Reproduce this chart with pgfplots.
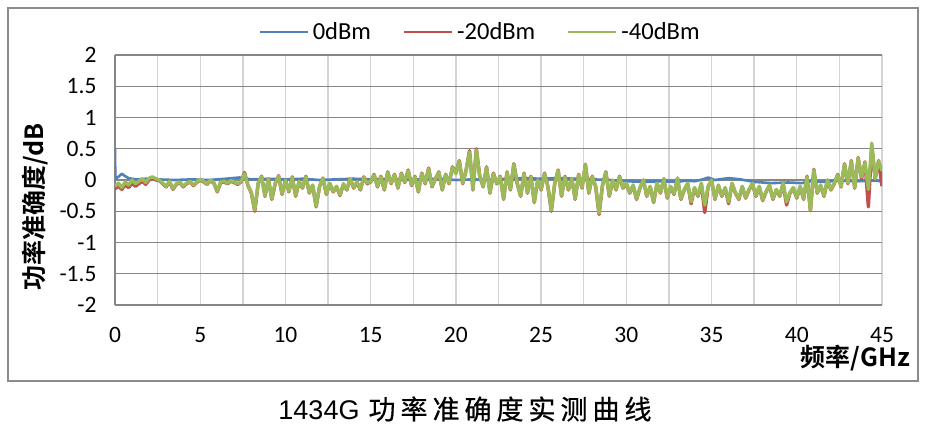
\documentclass[border=0pt]{standalone}
\usepackage{fontspec}
\setmainfont{Carlito}
\newfontfamily\cjk[FakeBold=0.6]{Noto Sans CJK SC}
\newfontfamily\cjkb{Noto Sans CJK SC Bold}
\newfontfamily\arial{Liberation Sans}
\usepackage{pgfplots}
\usepackage{pgfplotstable}
\pgfplotsset{compat=1.18}

\definecolor{xlblue}{HTML}{4F81BD}
\definecolor{xlred}{HTML}{C0504D}
\definecolor{xlgreen}{HTML}{9BBB59}
\definecolor{hgrid}{HTML}{868686}
\definecolor{vgrid}{HTML}{D4D4D4}
\definecolor{frame}{HTML}{8C8C8C}

% f = frequency (GHz), g = -40dBm, r = -20dBm
\pgfplotstableread{
f g r
0.0 -0.10 -0.14
0.2 -0.05 -0.10
0.4 -0.12 -0.15
0.6 -0.03 -0.08
0.8 -0.08 -0.12
1.0 0.00 -0.05
1.2 -0.06 -0.10
1.4 -0.02 -0.06
1.6 0.02 -0.02
1.8 -0.04 -0.07
2.0 0.03 0.00
2.2 0.05 0.03
2.4 0.02 0.00
2.6 0.00 -0.01
2.8 -0.05 -0.06
3.0 -0.10 -0.11
3.2 -0.02 -0.03
3.4 -0.14 -0.15
3.6 -0.06 -0.07
3.8 -0.03 -0.04
4.0 -0.10 -0.11
4.2 -0.05 -0.06
4.4 -0.02 -0.03
4.6 -0.08 -0.09
4.8 -0.03 -0.04
5.0 0.01 0.00
5.2 -0.02 -0.03
5.4 -0.06 -0.07
5.6 0.00 -0.01
5.8 -0.04 -0.05
6.0 -0.18 -0.19
6.2 -0.03 -0.04
6.4 -0.02 -0.03
6.6 -0.05 -0.06
6.8 -0.01 -0.02
7.0 -0.03 -0.04
7.2 -0.06 -0.07
7.4 -0.02 -0.03
7.6 0.10 0.12
7.8 -0.08 -0.09
8.0 -0.20 -0.21
8.2 -0.48 -0.50
8.4 -0.05 -0.06
8.6 0.05 0.06
8.8 -0.25 -0.26
9.0 0.02 0.02
9.2 -0.30 -0.31
9.4 -0.05 -0.06
9.6 0.06 0.07
9.8 -0.22 -0.23
10.0 0.00 0.00
10.2 -0.18 -0.19
10.4 0.04 0.05
10.6 -0.25 -0.26
10.8 -0.02 -0.03
11.0 -0.12 -0.13
11.2 0.05 0.06
11.4 -0.20 -0.21
11.6 -0.08 -0.09
11.8 -0.42 -0.43
12.0 -0.10 -0.11
12.2 0.03 0.03
12.4 -0.22 -0.23
12.6 -0.05 -0.06
12.8 -0.18 -0.19
13.0 -0.10 -0.11
13.2 -0.24 -0.25
13.4 -0.06 -0.07
13.6 -0.15 -0.16
13.8 0.02 0.02
14.0 -0.12 -0.13
14.2 -0.03 -0.04
14.4 -0.15 -0.16
14.6 0.04 0.05
14.8 -0.05 -0.06
15.0 -0.02 -0.03
15.2 0.08 0.09
15.4 -0.10 -0.11
15.6 0.05 0.06
15.8 -0.15 -0.16
16.0 0.12 0.13
16.2 -0.05 -0.06
16.4 0.08 0.09
16.6 -0.12 -0.13
16.8 0.10 0.11
17.0 -0.03 -0.04
17.2 0.15 0.16
17.4 -0.08 -0.09
17.6 0.05 0.06
17.8 -0.18 -0.19
18.0 0.10 0.11
18.2 -0.05 -0.06
18.4 0.18 0.19
18.6 -0.10 -0.11
18.8 0.02 0.02
19.0 0.12 0.13
19.2 -0.15 -0.16
19.4 0.08 0.09
19.6 -0.05 -0.06
19.8 0.20 0.21
20.0 0.10 0.11
20.2 0.30 0.31
20.4 -0.05 -0.06
20.6 0.15 0.16
20.8 0.45 0.47
21.0 -0.15 -0.16
21.2 0.48 0.50
21.4 0.05 0.06
21.6 -0.10 -0.11
21.8 0.20 0.21
22.0 -0.20 -0.21
22.2 0.10 0.11
22.4 -0.05 -0.06
22.6 0.05 0.06
22.8 -0.30 -0.31
23.0 0.12 0.13
23.2 -0.15 -0.16
23.4 0.25 0.26
23.6 -0.05 -0.06
23.8 -0.25 -0.26
24.0 0.10 0.11
24.2 -0.20 -0.21
24.4 0.05 0.06
24.6 -0.35 -0.36
24.8 0.00 0.00
25.0 -0.15 -0.16
25.2 0.10 0.11
25.4 -0.10 -0.11
25.6 -0.48 -0.50
25.8 -0.05 -0.06
26.0 0.15 0.16
26.2 -0.25 -0.26
26.4 0.05 0.06
26.6 -0.15 -0.16
26.8 0.02 0.02
27.0 -0.30 -0.31
27.2 0.08 0.09
27.4 -0.12 -0.13
27.6 0.24 0.25
27.8 -0.20 -0.21
28.0 0.05 0.06
28.2 -0.10 -0.11
28.4 -0.53 -0.55
28.6 -0.08 -0.09
28.8 0.12 0.13
29.0 -0.25 -0.26
29.2 0.00 -0.01
29.4 -0.15 -0.16
29.6 0.05 0.06
29.8 -0.12 -0.13
30.0 -0.05 -0.06
30.2 -0.20 -0.21
30.4 -0.08 -0.09
30.6 -0.30 -0.31
30.8 -0.12 -0.13
31.0 0.00 0.00
31.2 -0.25 -0.26
31.4 -0.10 -0.11
31.6 -0.35 -0.36
31.8 -0.05 -0.06
32.0 -0.20 -0.21
32.2 0.02 0.02
32.4 -0.28 -0.29
32.6 -0.10 -0.11
32.8 -0.22 -0.23
33.0 0.03 0.03
33.2 -0.30 -0.31
33.4 -0.15 -0.16
33.6 -0.05 -0.06
33.8 -0.35 -0.38
34.0 -0.12 -0.13
34.2 -0.25 -0.26
34.4 -0.05 -0.06
34.6 -0.40 -0.52
34.8 -0.10 -0.11
35.0 0.00 0.00
35.2 -0.30 -0.31
35.4 -0.08 -0.09
35.6 -0.25 -0.26
35.8 -0.12 -0.13
36.0 -0.35 -0.38
36.2 -0.05 -0.06
36.4 -0.20 -0.21
36.6 -0.30 -0.31
36.8 -0.10 -0.11
37.0 -0.28 -0.29
37.2 -0.15 -0.16
37.4 -0.05 -0.06
37.6 -0.25 -0.26
37.8 -0.10 -0.11
38.0 -0.32 -0.33
38.2 -0.18 -0.19
38.4 -0.08 -0.09
38.6 -0.30 -0.31
38.8 -0.15 -0.16
39.0 -0.25 -0.26
39.2 -0.05 -0.06
39.4 -0.35 -0.40
39.6 -0.20 -0.21
39.8 -0.12 -0.13
40.0 -0.28 -0.29
40.2 -0.10 -0.11
40.4 -0.30 -0.31
40.6 0.05 0.06
40.8 -0.48 -0.49
41.0 0.16 0.17
41.2 -0.20 -0.21
41.4 -0.08 -0.09
41.6 -0.25 -0.26
41.8 0.00 0.00
42.0 -0.15 -0.16
42.2 -0.05 -0.06
42.4 0.08 0.09
42.6 -0.10 -0.11
42.8 0.25 0.26
43.0 -0.05 -0.06
43.2 0.30 0.31
43.4 -0.12 -0.13
43.6 0.35 0.36
43.8 0.05 0.02
44.0 0.28 0.29
44.2 -0.15 -0.43
44.4 0.59 0.55
44.6 0.02 0.01
44.8 0.30 0.31
45.0 0.15 -0.10
}\meas

\begin{document}
\begin{tikzpicture}[x=1pt,y=1pt]
\useasboundingbox (0,0) rectangle (930,432);
\fill[white] (0,0) rectangle (930,432);
\draw[frame, line width=2.5pt] (8,51) rectangle (918,424);

\begin{axis}[
    at={(115pt,127pt)}, anchor=south west,
    scale only axis, width=767pt, height=250pt,
    xmin=0, xmax=45, ymin=-2, ymax=2,
    xtick={0,5,...,45},
    minor xtick={2.5,7.5,...,42.5},
    ytick={-2,-1.5,...,2},
    yticklabels={-2,-1.5,-1,-0.5,0,0.5,1,1.5,2},
    major tick length=0pt, minor tick length=0pt,
    xmajorgrids, xminorgrids, ymajorgrids,
    x grid style={vgrid, line width=1.4pt},
    minor x grid style={vgrid, line width=1.4pt},
    y grid style={hgrid, line width=1.2pt},
    axis lines*=left,
    axis line style={hgrid, line width=1.4pt, -},
    /pgf/number format/assume math mode=true,
    ticklabel style={font=\fontsize{23.5}{28}\selectfont, text=black},
    yticklabel style={xshift=-15pt},
    xticklabel style={yshift=-19pt},
    legend columns=3,
    legend style={at={(0.476,1.092)}, anchor=center, draw=none, fill=none,
        font=\fontsize{24.5}{29}\selectfont,
        /tikz/every even column/.append style={column sep=30pt},
        /tikz/every odd column/.append style={column sep=2pt}},
    legend image code/.code={\draw[#1, line width=2.2pt] (0pt,0pt) -- (48pt,0pt);},
]
\addplot[xlblue, line width=2.6pt, line join=round] coordinates {
    (0,0.5) (0.02,0.02) (0.2,0.05) (0.4,0.10) (0.6,0.06) (0.8,0.03)
    (1.2,0.01) (1.8,0.02) (2.5,0.01) (3.5,0.00) (4.5,0.01) (5.5,0.00)
    (6.5,0.02) (7.3,0.04) (8,0.01) (9,0.02) (10,0.01) (11,0.02) (12,0.00)
    (13,0.01) (14,0.02) (15,0.01) (16,0.02) (17,0.00) (18,0.01) (19,0.02)
    (20,0.00) (21,0.01) (22,0.00) (23,0.02) (24,0.03) (25,0.02) (26,0.03)
    (27,0.02) (28,0.01) (29,0.00) (30,-0.02) (31,-0.03) (32,-0.02)
    (33,-0.03) (33.5,-0.01) (34,-0.02) (34.5,0.01) (34.8,0.04) (35.2,0.00)
    (36,0.03) (36.7,0.01) (37.5,-0.03) (38.5,-0.05) (39.5,-0.04)
    (40.3,-0.05) (40.8,-0.02) (41.5,-0.03) (42.5,-0.01) (43.5,-0.02)
    (44.5,-0.01) (45,-0.02)
};
\addplot[xlred, line width=3.4pt, line join=round] table[x=f, y=r] {\meas};
\addplot[xlgreen, line width=3.4pt, line join=round] table[x=f, y=g] {\meas};
\legend{0dBm, -20dBm, -40dBm}
\end{axis}

\node[rotate=90, inner sep=0pt] at (35,225)
    {\cjkb\fontsize{25}{30}\selectfont 功率准确度/dB};
\node[anchor=east, inner sep=0pt] at (910,74)
    {\cjkb\fontsize{25}{30}\selectfont 频率/GHz};
\node[inner sep=0pt] at (465,23)
    {\arial\fontsize{27}{32}\selectfont 1434G\hspace{9pt}\cjk 功\hspace{5pt}率\hspace{5pt}准\hspace{5pt}确\hspace{5pt}度\hspace{5pt}实\hspace{5pt}测\hspace{5pt}曲\hspace{5pt}线};
\end{tikzpicture}
\end{document}
